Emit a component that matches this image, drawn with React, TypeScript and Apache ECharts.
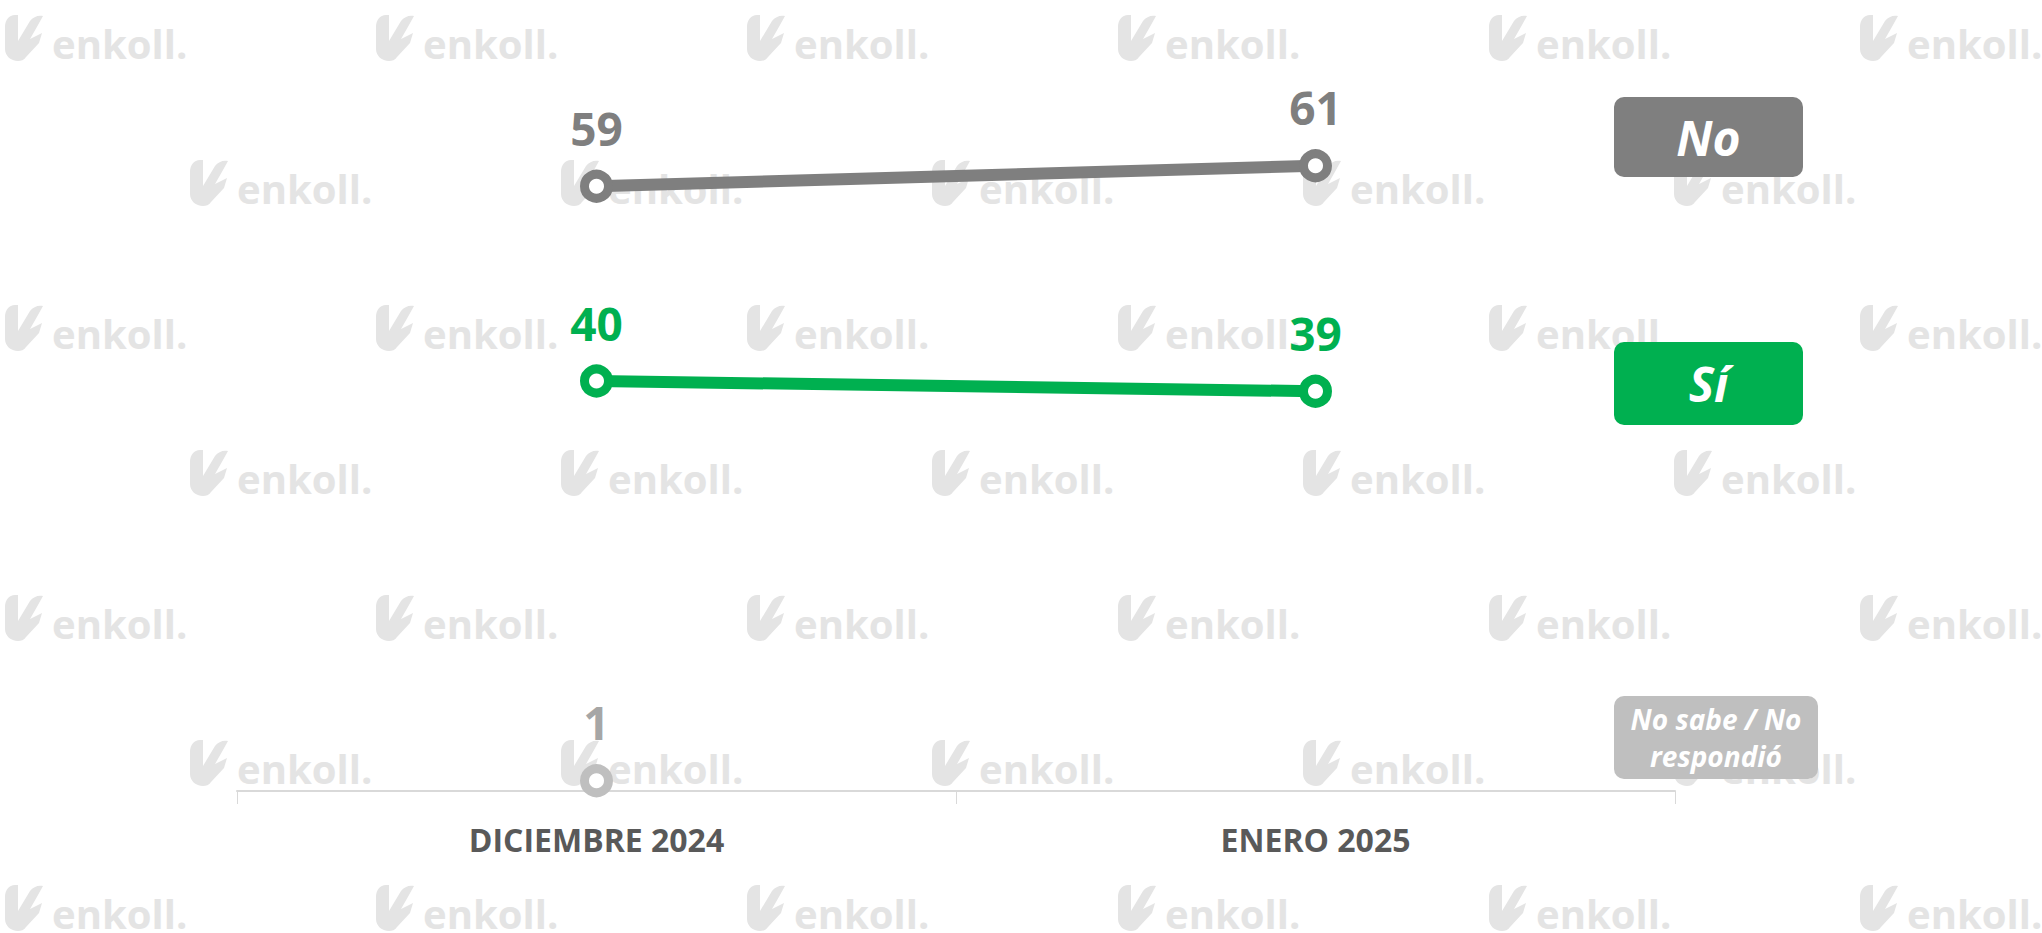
import React, { useEffect, useRef } from "react";
import * as echarts from "echarts";

const categories = ["DICIEMBRE 2024", "ENERO 2025"];
const noValues = [59, 61];
const siValues = [40, 39];
const nsValues: (number | null)[] = [1, null];

const legendNo = "No";
const legendSi = "Sí";
const legendNs = "No sabe / No\nrespondió";

const GRAY = "#7f7f7f";
const GREEN = "#00b050";
const LIGHT = "#bfbfbf";
const WM = "#e4e4e4";
const FONT = "'Open Sans', 'Noto Sans', sans-serif";

const ICON_D =
  "M3,14 C3,7 7,2 13,2 L16,2 L16,28 L28,8 C31,4 36,2 41,3 L36,12 L28,26 L40,20 L37,30 L24,44 C22,47 19,48 16,48 C9,48 3,43 3,36 Z";

function App() {
  const ref = useRef<HTMLDivElement>(null);
  useEffect(() => {
    if (!ref.current) return;
    try {
      echarts.graphic.registerShape("enkollIcon", echarts.graphic.extendPath(ICON_D, {}));
    } catch (e) {}
    const chart = echarts.init(ref.current, null, { renderer: "svg" });

    const wm: any[] = [];
    for (let r = 0; r < 7; r++) {
      const top = 13 + 145 * r;
      const x0 = r % 2 === 0 ? 2 : 187;
      const n = r % 2 === 0 ? 6 : 5;
      for (let j = 0; j < n; j++) {
        const x = x0 + 371 * j;
        wm.push({
          type: "enkollIcon",
          x,
          y: top,
          z: 0,
          silent: true,
          style: { fill: WM },
        });
        wm.push({
          type: "text",
          x: x + 50,
          y: top + 50,
          z: 0,
          silent: true,
          style: {
            text: "enkoll.",
            fill: WM,
            font: `bold 40px ${FONT}`,
            verticalAlign: "bottom",
          },
        });
      }
    }

    const box = (x: number, y: number, w: number, h: number, fill: string, text: string, size: number, lh: number) => ({
      type: "group",
      z: 10,
      children: [
        { type: "rect", shape: { x, y, width: w, height: h, r: 10 }, style: { fill } },
        {
          type: "text",
          x: x + w / 2,
          y: y + h / 2,
          style: {
            text,
            fill: "#ffffff",
            font: `italic bold ${size}px ${FONT}`,
            align: "center",
            verticalAlign: "middle",
            lineHeight: lh,
          },
        },
      ],
    });

    const seriesBase = (name: string, data: any[], color: string, labelColor: string) => ({
      name,
      type: "line",
      data,
      symbol: "circle",
      symbolSize: 24,
      lineStyle: { color, width: 12 },
      itemStyle: { color: "#ffffff", borderColor: color, borderWidth: 9 },
      label: {
        show: true,
        position: "top",
        distance: 19,
        color: labelColor,
        fontSize: 46,
        fontWeight: "bold",
        fontFamily: FONT,
      },
      z: 5,
    });

    chart.setOption({
      animation: false,
      backgroundColor: "#ffffff",
      grid: { left: 237, right: 367, top: 73.5, bottom: 142 },
      xAxis: {
        type: "category",
        data: categories,
        boundaryGap: true,
        axisLine: { show: true, lineStyle: { color: "#d9d9d9", width: 2 } },
        axisTick: { show: true, length: 13, lineStyle: { color: "#d9d9d9", width: 1 } },
        axisLabel: {
          color: "#595959",
          fontSize: 32,
          fontWeight: "bold",
          fontFamily: FONT,
          margin: 32,
        },
        z: 3,
      },
      yAxis: {
        type: "value",
        min: 0,
        max: 70,
        show: false,
        splitLine: { show: false },
      },
      series: [
        seriesBase(legendNo, noValues, GRAY, GRAY),
        seriesBase(legendSi, siValues, GREEN, GREEN),
        seriesBase("No sabe / No respondió", nsValues, LIGHT, "#a6a6a6"),
      ],
      graphic: [
        ...wm,
        box(1614, 97, 189, 80, GRAY, legendNo, 48, 56),
        box(1614, 342, 189, 83, GREEN, legendSi, 48, 56),
        box(1614, 696, 204, 83, LIGHT, legendNs, 28, 37),
      ],
    });
    return () => chart.dispose();
  }, []);
  return (
    <div
      ref={ref}
      style={{ position: "absolute", left: 0, top: 0, width: "2042px", height: "933px" }}
    />
  );
}

export default App;
